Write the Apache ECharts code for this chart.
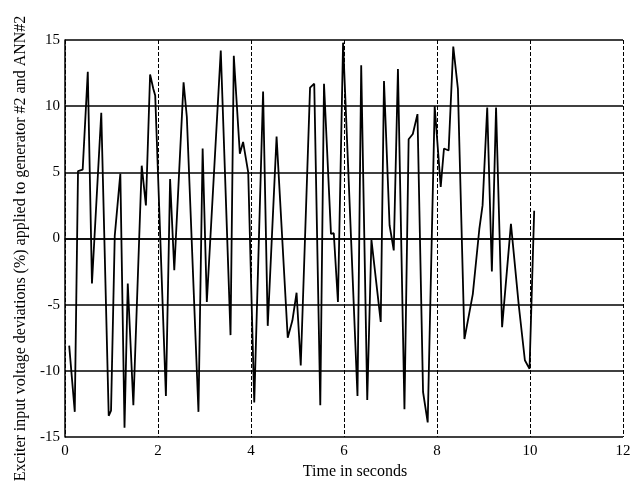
<!DOCTYPE html>
<html>
<head>
<meta charset="utf-8">
<script src="https://cdn.jsdelivr.net/npm/echarts@6/dist/echarts.min.js"></script>
<style>
  html, body { margin: 0; padding: 0; background: #fff; }
  #chart { width: 635px; height: 497px; }
</style>
</head>
<body>
<div id="chart"></div>
<script>
// sample times (s) and exciter voltage deviations (%)
const times = [0.09, 0.21, 0.28, 0.38, 0.49, 0.58, 0.78, 0.94, 0.99, 1.07, 1.19, 1.28, 1.35, 1.47, 1.65, 1.74, 1.83, 1.90, 1.94, 2.17,
  2.26, 2.35, 2.55, 2.62, 2.87, 2.96, 3.05, 3.35, 3.56, 3.63, 3.76, 3.83, 3.94, 4.07, 4.26, 4.36, 4.55, 4.79, 4.89, 4.98,
  5.07, 5.27, 5.36, 5.49, 5.57, 5.72, 5.78, 5.87, 5.98, 6.29, 6.37, 6.50, 6.59, 6.79, 6.86, 6.98, 7.07, 7.16, 7.30, 7.39,
  7.48, 7.58, 7.70, 7.80, 7.95, 8.08, 8.15, 8.25, 8.35, 8.45, 8.59, 8.77, 8.91, 8.98, 9.08, 9.18, 9.27, 9.40, 9.59, 9.76,
  9.89, 9.99, 10.09]
const deviation = [-8.1, -13.1, 5.1, 5.2, 12.6, -3.4, 9.5, -13.4, -13.0, 0.2, 4.9, -14.3, -3.4, -12.6, 5.5, 2.5, 12.4, 11.3, 10.8, -11.9,
  4.5, -2.4, 11.8, 9.2, -13.1, 6.8, -4.8, 14.2, -7.3, 13.8, 6.4, 7.3, 5.0, -12.4, 11.1, -6.6, 7.7, -7.5, -6.2, -4.1,
  -9.6, 11.4, 11.7, -12.6, 11.7, 0.35, 0.4, -4.8, 14.8, -11.9, 13.1, -12.2, -0.1, -6.3, 11.9, 1.0, -0.9, 12.8, -12.9, 7.5,
  7.9, 9.4, -11.6, -13.9, 10.0, 3.9, 6.8, 6.65, 14.5, 11.3, -7.6, -4.2, 0.7, 2.5, 9.9, -2.5, 9.9, -6.7, 1.1, -5.1,
  -9.2, -9.85, 2.1]

const xTicks = { min: 0, max: 12, step: 2 }
const yTicks = { min: -15, max: 15, step: 5 }

const serif = '"Liberation Serif", "DejaVu Serif", serif'

const chart = echarts.init(document.getElementById('chart'))
chart.setOption({
  animation: false,
  backgroundColor: '#fff',
  grid: { left: 65, right: 12, top: 40, bottom: 60 },
  xAxis: {
    type: 'value',
    min: xTicks.min,
    max: xTicks.max,
    interval: xTicks.step,
    name: 'Time in seconds',
    nameLocation: 'middle',
    nameGap: 27,
    nameTextStyle: { color: '#000', fontSize: 16, fontFamily: serif, padding: [0, 0, 0, 22] },
    axisLine: { lineStyle: { color: '#000', width: 1.5 } },
    axisTick: { show: false },
    axisLabel: { color: '#000', fontSize: 15, fontFamily: serif, margin: 7 },
    splitLine: { lineStyle: { color: '#000', width: 1, type: [4, 2] } },
  },
  yAxis: {
    type: 'value',
    min: yTicks.min,
    max: yTicks.max,
    interval: yTicks.step,
    name: 'Exciter input voltage deviations (%) applied to generator #2 and ANN#2',
    nameLocation: 'middle',
    nameRotate: 90,
    nameGap: 34,
    nameTextStyle: { color: '#000', fontSize: 16, fontFamily: serif, padding: [0, 20, 0, 0] },
    axisLine: { show: true, lineStyle: { color: '#000', width: 1.5 } },
    axisTick: { show: false },
    axisLabel: { color: '#000', fontSize: 15, fontFamily: serif, margin: 5 },
    splitLine: { lineStyle: { color: '#000', width: 1.5 } },
  },
  series: [
    {
      type: 'line',
      data: times.map((t, i) => [t, deviation[i]]),
      symbol: 'none',
      lineStyle: { color: '#000', width: 1.8 },
    },
  ],
})
</script>
</body>
</html>
